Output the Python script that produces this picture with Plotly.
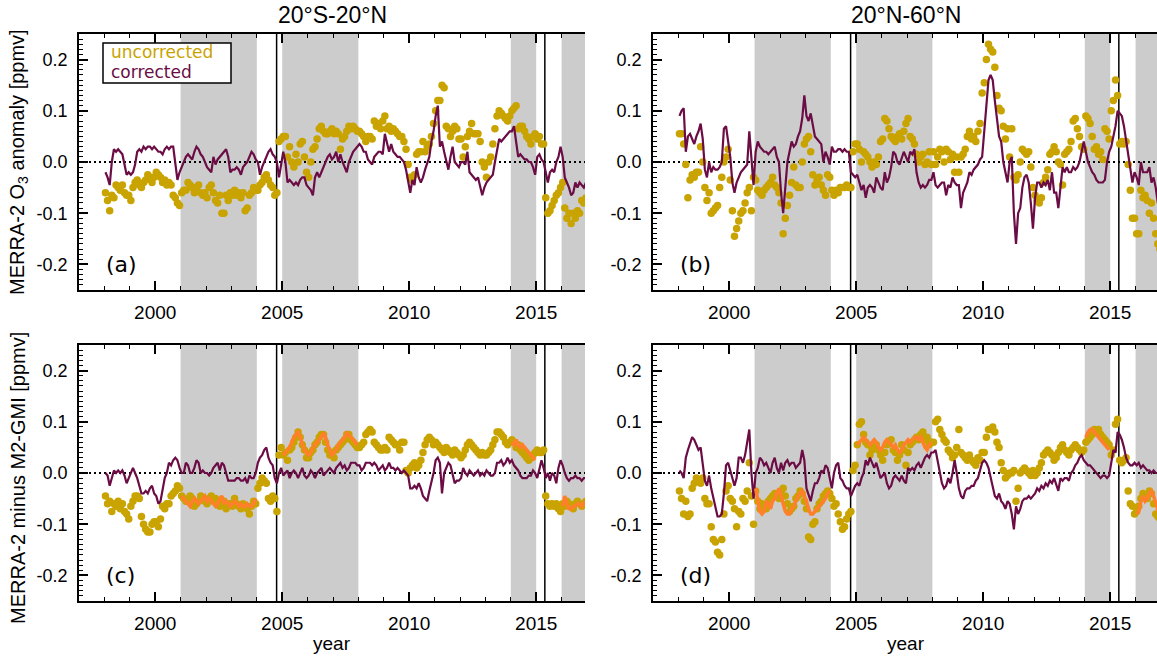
import numpy as np
import plotly.graph_objects as go

# ---------------------------------------------------------------------------
# Monthly series, Jan 1998 .. Dec 2016 (one row of 12 values per year)
# ---------------------------------------------------------------------------
FIRST_YEAR = 1998
N_YEARS = 19

# (a) 20S-20N, O3 anomaly
A_UNCORR = [
    -0.06, -0.075, -0.095, -0.065, -0.07, -0.045, -0.05, -0.055, -0.045, -0.06, -0.065, -0.065,
    -0.075, -0.05, -0.04, -0.035, -0.045, -0.05, -0.04, -0.035, -0.025, -0.03, -0.04, -0.03,
    -0.02, -0.025, -0.03, -0.04, -0.035, -0.045, -0.04, -0.045, -0.065, -0.07, -0.08, -0.085,
    -0.06, -0.055, -0.055, -0.04, -0.045, -0.05, -0.06, -0.05, -0.045, -0.06, -0.065, -0.06,
    -0.07, -0.05, -0.045, -0.06, -0.075, -0.08, -0.065, -0.1, -0.1, -0.065, -0.075, -0.06,
    -0.065, -0.055, -0.065, -0.06, -0.07, -0.06, -0.095, -0.09, -0.065, -0.06, -0.05, -0.055,
    -0.055, -0.045, -0.04, -0.03, -0.025, -0.035, -0.045, -0.05, -0.065, -0.06, 0.04, 0.045,
    0.05, 0.05, 0.01, 0.03, 0.0, -0.01, 0.015, 0.0, 0.035, 0.04, 0.01, -0.02,
    -0.03, 0.0, 0.025, 0.03, 0.045, 0.065, 0.07, 0.06, 0.055, 0.055, 0.06, 0.065,
    0.055, 0.06, 0.055, 0.025, 0.045, 0.05, 0.06, 0.07, 0.065, 0.07, 0.065, 0.06,
    0.06, 0.055, 0.05, 0.04, 0.05, 0.05, 0.045, 0.08, 0.07, 0.075, 0.065, 0.08,
    0.09, 0.065, 0.07, 0.06, 0.065, 0.06, 0.055, 0.05, 0.05, 0.04, 0.025, -0.005,
    -0.03, -0.035, -0.025, 0.015, 0.02, 0.02, 0.04, 0.02, 0.03, 0.035, 0.05, 0.075,
    0.1, 0.12, 0.12, 0.15, 0.145, 0.07, 0.065, 0.05, 0.06, 0.07, 0.065, 0.045,
    0.045, 0.01, 0.03, 0.05, 0.06, 0.075, 0.055, 0.055, 0.055, 0.04, 0.0, -0.01,
    -0.03, 0.0, 0.01, 0.035, 0.065, 0.09, 0.1, 0.095, 0.09, 0.085, 0.08, 0.09,
    0.1, 0.105, 0.11, 0.065, 0.07, 0.07, 0.06, 0.05, 0.045, 0.035, 0.05, 0.055,
    0.045, 0.05, 0.035, 0.035, -0.07, -0.1, -0.095, -0.085, -0.075, -0.065, -0.06, -0.05,
    -0.04, -0.09, -0.11, -0.1, -0.12, -0.1, -0.11, -0.095, -0.1, -0.075, -0.08, -0.07,
]
A_CORR = [
    -0.02, -0.03, -0.045, 0.0, 0.025, 0.02, 0.025, 0.02, 0.015, -0.005, -0.025, -0.02,
    -0.025, -0.02, -0.005, 0.02, 0.025, 0.02, 0.03, 0.025, 0.03, 0.03, 0.025, 0.03,
    0.025, 0.02, 0.02, 0.015, 0.025, 0.03, 0.025, 0.03, 0.03, 0.0, -0.035, -0.02,
    -0.01, 0.0, 0.01, 0.015, 0.01, 0.005, 0.02, 0.03, 0.025, 0.015, 0.01, 0.0,
    -0.01, -0.015, -0.02, 0.01, -0.005, 0.005, 0.01, 0.015, 0.02, 0.025, 0.01, -0.02,
    -0.015, -0.015, -0.01, -0.015, -0.025, -0.01, -0.005, 0.0, 0.01, 0.02, 0.015, 0.005,
    0.0, -0.025, -0.01, 0.0, 0.01, 0.02, 0.025, 0.015, 0.01, 0.0, -0.03, 0.0,
    0.02, 0.0, -0.04, -0.035, -0.04, -0.045, -0.04, -0.045, -0.035, -0.03, -0.03, -0.045,
    -0.05, -0.055, -0.065, -0.03, -0.02, -0.03, -0.02, -0.01, 0.0, 0.01, 0.015, 0.005,
    0.01, 0.02, 0.0, 0.015, 0.0, -0.01, -0.02, 0.0, 0.01, 0.02, 0.025, 0.03,
    0.035, 0.03, 0.02, 0.02, 0.005, 0.0, -0.005, 0.01, 0.015, 0.02, 0.02, 0.015,
    0.055, 0.04, 0.02, 0.035, 0.02, 0.015, 0.01, 0.01, 0.005, 0.0, -0.015, -0.04,
    -0.06, -0.035, -0.045, -0.01, -0.03, -0.04, -0.03, -0.015, 0.0, 0.01, 0.04, 0.06,
    0.09, 0.11, 0.03, 0.04, 0.02, 0.0, -0.015, 0.01, 0.03, 0.0, -0.005, -0.01,
    0.0, 0.0, -0.005, 0.02, -0.02, -0.025, -0.03, -0.035, -0.03, -0.045, -0.065, -0.05,
    -0.04, -0.035, -0.03, -0.025, 0.0, 0.02, 0.045, 0.04, 0.045, 0.05, 0.055, 0.06,
    0.06, 0.07, 0.04, 0.01, 0.015, 0.01, 0.005, 0.005, 0.0, 0.0, -0.01, -0.025,
    0.01, 0.015, 0.005, 0.0, -0.02, -0.04, -0.02, -0.015, -0.02, 0.0, 0.01, 0.03,
    0.01, -0.03, -0.04, -0.05, -0.065, -0.06, -0.04, -0.05, -0.04, -0.045, -0.05, -0.04,
]

# (b) 20N-60N, O3 anomaly
B_UNCORR = [
    0.055, 0.055, 0.035, -0.005, -0.07, -0.035, -0.025, -0.03, -0.02, -0.02, 0.03, 0.0,
    -0.05, -0.075, -0.06, -0.1, -0.095, -0.09, -0.085, -0.05, -0.03, 0.0, 0.01, 0.025,
    -0.035, -0.095, -0.145, -0.13, -0.115, -0.1, -0.095, -0.08, -0.06, -0.05, -0.095, -0.03,
    -0.035, -0.055, -0.06, -0.065, -0.055, -0.05, -0.045, -0.04, -0.03, -0.045, -0.05, -0.06,
    -0.08, -0.14, -0.11, -0.085, -0.065, -0.04, -0.01, -0.045, -0.05, -0.05, 0.0, 0.035,
    0.045, 0.05, 0.02, -0.025, -0.045, -0.035, -0.03, -0.045, -0.055, -0.065, -0.025, -0.03,
    -0.055, -0.065, -0.055, -0.06, -0.05, -0.05, -0.05, -0.045, -0.05, -0.05, 0.02, 0.035,
    0.035, 0.025, 0.0, 0.02, 0.015, 0.01, 0.0, -0.01, 0.0, -0.005, 0.01, 0.04,
    0.045, 0.085, 0.08, 0.065, 0.05, 0.045, 0.04, 0.05, 0.055, 0.045, 0.06, 0.075,
    0.085, 0.05, 0.045, 0.035, 0.015, 0.0, 0.01, 0.015, -0.005, 0.0, 0.02, -0.005,
    0.02, -0.005, 0.01, 0.025, 0.02, 0.0, 0.025, 0.02, 0.005, 0.015, -0.02, 0.01,
    -0.02, 0.01, 0.015, 0.025, 0.05, 0.06, 0.045, 0.05, 0.04, 0.06, 0.075, 0.135,
    0.155, 0.2, 0.23, 0.22, 0.215, 0.185, 0.13, 0.105, 0.1, 0.07, 0.045, 0.065,
    0.01, 0.065, -0.03, -0.035, -0.025, 0.0, 0.025, 0.02, 0.015, 0.02, -0.01, -0.05,
    -0.065, -0.075, -0.08, -0.07, -0.04, -0.03, -0.015, 0.015, 0.02, 0.03, 0.02, 0.0,
    -0.005, -0.045, 0.015, 0.02, 0.025, 0.04, 0.08, 0.085, 0.065, 0.05, 0.03, 0.025,
    0.09, 0.085, 0.075, 0.05, 0.025, 0.03, 0.015, 0.02, 0.005, 0.065, 0.06, 0.045,
    0.1, 0.12, 0.16, 0.13, 0.035, 0.04, 0.035, 0.04, -0.005, -0.055, -0.11, -0.11,
    -0.14, -0.14, -0.055, -0.07, -0.065, -0.075, -0.1, -0.08, -0.11, -0.14, -0.16, -0.17,
]
B_CORR = [
    0.09, 0.1, 0.105, 0.02, 0.05, 0.055, 0.045, 0.035, 0.05, 0.06, 0.075, 0.045,
    -0.015, -0.03, 0.0, -0.02, -0.01, -0.015, -0.015, -0.01, 0.0, 0.065, 0.07, 0.04,
    0.01, -0.04, -0.06, -0.04, -0.03, -0.02, -0.015, -0.01, -0.005, 0.06, 0.0, -0.045,
    0.02, 0.04, 0.03, 0.025, 0.02, 0.02, 0.015, 0.02, 0.025, 0.03, 0.01, 0.0,
    -0.06, -0.1, -0.05, 0.0, 0.02, 0.04, 0.03, 0.035, 0.05, 0.06, 0.085, 0.13,
    0.09, 0.08, 0.095, 0.07, 0.05, 0.045, 0.04, 0.035, 0.0, 0.02, 0.01, -0.005,
    0.03, 0.02, 0.02, 0.025, 0.025, 0.02, 0.025, 0.02, 0.02, -0.02, -0.025, -0.03,
    -0.025, -0.04, -0.055, -0.045, -0.07, -0.05, -0.045, -0.05, -0.06, -0.03, -0.04, -0.05,
    -0.055, -0.02, -0.04, -0.03, -0.01, 0.02, 0.015, 0.0, -0.005, 0.01, 0.02, 0.01,
    0.0, 0.02, 0.015, 0.025, -0.02, -0.04, -0.05, -0.045, -0.05, -0.045, -0.035, -0.035,
    -0.02, -0.045, -0.05, -0.045, -0.04, -0.04, -0.065, -0.045, -0.05, -0.03, -0.04, -0.045,
    -0.045, -0.09, -0.06, -0.05, -0.04, -0.02, -0.025, -0.015, -0.01, -0.005, 0.005, 0.01,
    0.06, 0.12, 0.16, 0.17, 0.16, 0.12, 0.08, 0.05, 0.04, 0.0, -0.02, -0.04,
    0.0, 0.01, -0.1, -0.16, -0.1, -0.09, -0.05, -0.03, -0.025, -0.04, -0.08, -0.13,
    -0.07, -0.04, -0.04, -0.05, -0.04, -0.045, -0.035, -0.055, -0.02, -0.06, -0.06, -0.09,
    -0.05, -0.01, -0.02, -0.01, -0.02, -0.02, -0.01, -0.015, -0.01, 0.0, 0.02, 0.04,
    0.02, 0.0, -0.01, -0.02, -0.025, -0.035, -0.04, -0.04, -0.04, -0.035, 0.0, 0.02,
    0.03, 0.05, 0.07, 0.1, 0.095, 0.09, 0.07, 0.04, 0.01, -0.02, -0.04, -0.02,
    -0.03, -0.045, 0.0, -0.02, -0.02, -0.02, -0.01, -0.04, -0.03, -0.05, -0.08, -0.09,
]

# (c) 20S-20N, MERRA-2 minus M2-GMI
C_UNCORR = [
    -0.045, -0.06, -0.055, -0.075, -0.06, -0.065, -0.055, -0.07, -0.06, -0.075, -0.08, -0.09,
    -0.065, -0.055, -0.045, -0.045, -0.05, -0.085, -0.1, -0.11, -0.115, -0.115, -0.1, -0.095,
    -0.095, -0.105, -0.09, -0.065, -0.07, -0.06, -0.06, -0.045, -0.04, -0.035, -0.025, -0.03,
    -0.045, -0.05, -0.055, -0.055, -0.045, -0.05, -0.065, -0.06, -0.055, -0.045, -0.05, -0.055,
    -0.06, -0.05, -0.045, -0.055, -0.05, -0.06, -0.065, -0.06, -0.055, -0.07, -0.06, -0.06,
    -0.065, -0.05, -0.06, -0.065, -0.07, -0.06, -0.065, -0.07, -0.08, -0.065, -0.055, -0.06,
    -0.03, -0.02, -0.01, -0.015, -0.02, -0.05, -0.055, -0.045, -0.05, -0.075, 0.035, 0.05,
    0.035, 0.04, 0.025, 0.045, 0.05, 0.06, 0.07, 0.08, 0.07, 0.055, 0.045, 0.03,
    0.03, 0.04, 0.045, 0.055, 0.06, 0.07, 0.075, 0.075, 0.06, 0.045, 0.035, 0.04,
    0.03, 0.045, 0.05, 0.055, 0.06, 0.065, 0.075, 0.075, 0.065, 0.06, 0.055, 0.05,
    0.05, 0.055, 0.06, 0.075, 0.08, 0.085, 0.08, 0.06, 0.055, 0.05, 0.045, 0.045,
    0.05, 0.045, 0.07, 0.065, 0.06, 0.055, 0.055, 0.045, 0.06, 0.06, 0.005, 0.0,
    0.01, 0.015, 0.02, 0.01, 0.015, 0.025, 0.04, 0.055, 0.065, 0.07, 0.065, 0.055,
    0.06, 0.055, 0.05, 0.045, 0.04, 0.05, 0.045, 0.04, 0.035, 0.045, 0.04, 0.035,
    0.03, 0.035, 0.045, 0.055, 0.06, 0.055, 0.05, 0.045, 0.04, 0.035, 0.04, 0.035,
    0.035, 0.04, 0.045, 0.055, 0.065, 0.08, 0.08, 0.075, 0.07, 0.06, 0.055, 0.06,
    0.065, 0.06, 0.05, 0.055, 0.045, 0.04, 0.035, 0.03, 0.025, 0.03, 0.035, 0.04,
    0.045, 0.04, 0.04, 0.045, -0.045, -0.06, -0.065, -0.06, -0.065, -0.06, -0.07, -0.075,
    -0.06, -0.065, -0.055, -0.06, -0.065, -0.07, -0.06, -0.055, -0.06, -0.065, -0.06, -0.055,
]
C_CORR = [
    0.0, -0.005, -0.025, -0.01, 0.005, 0.0, 0.005, 0.0, 0.005, -0.005, -0.02, -0.01,
    0.0, 0.01, 0.0, -0.01, -0.025, -0.04, -0.04, -0.035, -0.04, -0.03, -0.025, -0.04,
    -0.045, -0.06, -0.055, -0.03, -0.01, 0.0, 0.02, 0.015, 0.025, 0.03, 0.025, 0.01,
    0.0, 0.0, 0.02, 0.015, 0.0, 0.0, 0.01, 0.025, 0.02, 0.0, 0.005, 0.0,
    0.0, -0.005, 0.0, 0.01, 0.015, 0.02, 0.005, 0.02, 0.015, 0.0, -0.015, -0.015,
    -0.015, -0.015, -0.01, -0.01, -0.015, -0.015, -0.01, -0.02, -0.005, -0.01, -0.01, 0.0,
    0.02, 0.03, 0.035, 0.045, 0.05, 0.03, 0.02, 0.015, -0.01, -0.02, 0.0, 0.01,
    -0.005, 0.0, 0.005, -0.01, 0.0, 0.005, 0.0, -0.01, 0.0, 0.01, -0.005, -0.01,
    -0.005, 0.005, 0.0, -0.01, 0.0, 0.005, 0.01, -0.005, 0.0, 0.005, 0.01, 0.005,
    0.0, 0.01, 0.015, 0.02, 0.01, 0.015, 0.005, 0.01, 0.02, 0.02, 0.02, 0.015,
    0.015, 0.005, 0.01, 0.02, 0.02, 0.02, 0.015, 0.02, 0.015, 0.005, 0.01, 0.015,
    0.005, 0.01, 0.02, 0.01, 0.01, 0.005, 0.01, 0.005, 0.0, 0.005, 0.0, -0.005,
    -0.03, -0.03, -0.025, -0.03, -0.02, -0.03, -0.045, -0.05, -0.055, -0.035, -0.02, 0.0,
    0.025, 0.03, 0.02, -0.04, 0.0, 0.01, 0.02, 0.015, 0.0, -0.02, -0.015, -0.015,
    -0.01, 0.01, 0.0, -0.005, 0.005, 0.0, -0.005, 0.0, 0.005, -0.005, 0.0, -0.005,
    0.005, 0.0, -0.005, -0.005, 0.0, 0.02, 0.02, 0.025, 0.015, 0.02, 0.03, 0.02,
    0.025, 0.015, 0.01, 0.005, -0.005, -0.01, -0.01, -0.01, -0.005, -0.005, 0.005, 0.0,
    -0.01, 0.01, 0.025, 0.01, -0.01, 0.0, -0.015, 0.0, -0.005, -0.02, 0.01, 0.025,
    0.015, 0.0, -0.01, -0.015, -0.01, -0.01, -0.005, -0.01, -0.01, -0.015, -0.01, -0.01,
]

# (d) 20N-60N, MERRA-2 minus M2-GMI
D_UNCORR = [
    -0.035, -0.05, -0.08, -0.055, -0.085, -0.08, -0.03, -0.02, -0.01, -0.015, -0.02, -0.01,
    -0.05, -0.06, -0.06, -0.105, -0.13, -0.135, -0.155, -0.16, -0.13, -0.08, -0.035, -0.025,
    -0.05, -0.055, -0.07, -0.105, -0.075, -0.08, -0.05, -0.055, -0.035, 0.02, -0.045, -0.1,
    -0.035, -0.055, -0.07, -0.06, -0.065, -0.07, -0.055, -0.05, -0.045, -0.04, -0.045, -0.05,
    -0.035, -0.03, -0.045, -0.06, -0.075, -0.07, -0.065, -0.05, -0.045, -0.035, -0.04, -0.055,
    -0.07, -0.125, -0.13, -0.1, -0.095, -0.07, -0.06, -0.055, -0.045, -0.04, -0.035, -0.04,
    -0.05, -0.065, -0.06, -0.08, -0.095, -0.11, -0.105, -0.09, -0.08, -0.075, 0.005, 0.015,
    0.055, 0.095, 0.1, 0.075, 0.06, 0.055, 0.035, 0.045, 0.05, 0.055, 0.045, 0.035,
    0.025, 0.04, 0.055, 0.06, 0.065, 0.045, 0.04, 0.025, 0.035, 0.055, 0.045, 0.015,
    0.04, 0.055, 0.06, 0.065, 0.07, 0.065, 0.075, 0.08, 0.065, 0.07, 0.055, 0.06,
    0.06, 0.1, 0.105, 0.085, 0.075, 0.065, 0.06, 0.045, 0.04, 0.03, 0.035, 0.05,
    0.085, 0.04, 0.035, 0.03, 0.025, 0.035, 0.025, 0.02, 0.015, 0.03, 0.025, 0.04,
    0.04, 0.07, 0.085, 0.085, 0.09, 0.08, 0.06, 0.05, 0.02, 0.005, -0.01, -0.005,
    0.0, 0.0, 0.005, -0.055, -0.03, 0.0, 0.005, 0.01, 0.005, 0.0, -0.005, 0.005,
    -0.005, 0.0, 0.01, 0.02, 0.035, 0.04, 0.045, 0.04, 0.035, 0.025, 0.03, 0.04,
    0.05, 0.055, 0.045, 0.04, 0.035, 0.045, 0.05, 0.055, 0.05, 0.045, 0.04, 0.045,
    0.06, 0.065, 0.07, 0.075, 0.085, 0.08, 0.085, 0.075, 0.07, 0.065, 0.06, 0.055,
    0.035, 0.045, 0.095, 0.105, 0.025, 0.02, 0.025, 0.03, -0.035, -0.06, -0.065, -0.08,
    -0.075, -0.065, -0.05, -0.04, -0.045, -0.05, -0.035, -0.04, -0.06, -0.08, -0.085, -0.09,
]
D_CORR = [
    0.005, 0.0, -0.01, 0.03, 0.045, 0.06, 0.07, 0.065, 0.055, 0.045, 0.05, 0.02,
    -0.015, -0.025, -0.005, -0.03, -0.05, -0.07, -0.085, -0.085, -0.08, -0.04, 0.015, 0.02,
    0.005, -0.015, -0.025, -0.01, 0.03, 0.03, 0.02, 0.035, 0.06, 0.085, 0.0, -0.05,
    0.0, 0.01, 0.03, 0.025, 0.015, 0.02, 0.01, 0.0, 0.02, 0.03, 0.01, 0.0,
    0.02, 0.005, 0.02, 0.025, 0.015, 0.02, 0.02, 0.01, 0.015, 0.02, 0.045, 0.025,
    -0.03, -0.045, -0.055, -0.035, -0.02, -0.02, -0.01, 0.005, 0.0, 0.015, 0.01, -0.01,
    -0.03, 0.0, 0.015, 0.02, -0.01, -0.015, -0.025, -0.03, -0.03, -0.045, -0.035, -0.025,
    -0.02, -0.025, -0.01, 0.0, 0.025, 0.015, 0.03, 0.02, 0.01, 0.02, 0.005, -0.01,
    -0.005, 0.0, -0.02, -0.03, -0.025, -0.01, -0.005, -0.01, -0.015, -0.005, -0.015, -0.02,
    0.01, 0.005, 0.01, 0.005, 0.015, 0.02, 0.01, 0.02, 0.03, 0.035, 0.03, 0.04,
    0.04, 0.045, 0.025, 0.005, -0.02, -0.03, -0.025, -0.01, -0.02, 0.0, 0.025, 0.0,
    -0.03, -0.045, -0.05, -0.035, -0.03, -0.03, -0.025, -0.025, -0.015, -0.01, 0.005, 0.02,
    0.025, 0.02, 0.01, -0.01, -0.03, -0.045, -0.05, -0.04, -0.055, -0.06, -0.07, -0.055,
    -0.06, -0.08, -0.11, -0.065, -0.08, -0.07, -0.055, -0.05, -0.05, -0.045, -0.05, -0.045,
    -0.04, -0.03, -0.035, -0.025, -0.03, -0.02, -0.025, -0.015, -0.02, -0.01, -0.025, -0.035,
    -0.01, -0.015, -0.01, -0.01, -0.015, 0.0, 0.005, 0.015, 0.02, 0.03, 0.035, 0.025,
    0.02, 0.015, 0.015, 0.01, 0.005, 0.0, -0.005, -0.01, -0.005, -0.005, -0.01, -0.005,
    0.02, 0.045, 0.04, 0.08, 0.075, 0.065, 0.05, 0.03, 0.02, 0.015, 0.015, 0.02,
    0.015, 0.02, 0.01, 0.015, 0.01, 0.005, 0.005, 0.0, 0.005, 0.0, 0.0, -0.005,
]

# Difference during the reference periods (monthly, starting in January of the given year)
C_ORANGE_2001 = [
    -0.045, -0.05, -0.055, -0.06, -0.065, -0.055, -0.05, -0.055, -0.06, -0.055, -0.05, -0.045,
    -0.055, -0.05, -0.055, -0.06, -0.065, -0.06, -0.05, -0.045, -0.06, -0.055, -0.06, -0.065,
    -0.06, -0.055, -0.06, -0.065, -0.06, -0.065, -0.065, -0.06, -0.065, -0.065, -0.06, -0.05,
]
C_ORANGE_2005 = [
    0.035, 0.04, 0.045, 0.05, 0.06, 0.07, 0.075, 0.08, 0.07, 0.055, 0.045, 0.04,
    0.035, 0.04, 0.05, 0.055, 0.06, 0.065, 0.07, 0.078, 0.07, 0.055, 0.045, 0.035,
    0.04, 0.045, 0.055, 0.06, 0.065, 0.07, 0.078, 0.075, 0.07, 0.065, 0.06, 0.055,
]
C_ORANGE_2014 = [0.06, 0.055, 0.065, 0.055, 0.05, 0.055, 0.05, 0.045, 0.04, 0.035, 0.03, 0.025]
C_ORANGE_2016 = [-0.065, -0.045, -0.06, -0.07, -0.07, -0.065, -0.065, -0.06, -0.06, -0.065, -0.06, -0.055]

D_ORANGE_2001 = [
    -0.03, -0.055, -0.075, -0.08, -0.075, -0.055, -0.06, -0.07, -0.055, -0.05, -0.04, -0.03,
    -0.045, -0.06, -0.075, -0.08, -0.08, -0.07, -0.065, -0.055, -0.045, -0.04, -0.035, -0.045,
    -0.055, -0.07, -0.08, -0.08, -0.075, -0.07, -0.065, -0.06, -0.055, -0.05, -0.04, -0.035,
]
D_ORANGE_2005 = [
    0.055, 0.06, 0.065, 0.07, 0.065, 0.06, 0.055, 0.06, 0.065, 0.06, 0.05, 0.045,
    0.05, 0.06, 0.065, 0.06, 0.055, 0.05, 0.055, 0.045, 0.04, 0.045, 0.055, 0.06,
    0.065, 0.06, 0.065, 0.07, 0.07, 0.065, 0.07, 0.06, 0.05, 0.045, 0.055, 0.06,
]
D_ORANGE_2014 = [0.07, 0.08, 0.085, 0.085, 0.08, 0.075, 0.07, 0.065, 0.06, 0.055, 0.05, 0.045]
D_ORANGE_2016 = [-0.08, -0.075, -0.055, -0.045, -0.055, -0.05, -0.04, -0.035, -0.045, -0.06, -0.075, -0.085]

# Shaded reference periods and instrument change dates
SHADED_PERIODS = [(2001.0, 2004.0), (2005.0, 2008.0), (2014.0, 2015.0), (2016.0, 2020.0)]
CHANGE_DATES = [2004.78, 2015.34]

TITLES = ["20°S-20°N", "20°N-60°N"]
Y_LABELS = ["MERRA-2 O<sub>3</sub> anomaly [ppmv]", "MERRA-2 minus M2-GMI [ppmv]"]
PANEL_TAGS = ["(a)", "(b)", "(c)", "(d)"]
Y_TICKS = [-0.2, -0.1, 0.0, 0.1, 0.2]
Y_TICK_TEXT = ["-0.2", "-0.1", "0.0", "0.1", "0.2"]

GOLD = "#C9A300"
PURPLE = "#6B0C45"
ORANGE = "#FF7F2A"
SHADE = "#CCCCCC"

for series in (A_UNCORR, A_CORR, B_UNCORR, B_CORR, C_UNCORR, C_CORR, D_UNCORR, D_CORR):
    assert len(series) == 12 * N_YEARS, len(series)

t = FIRST_YEAR + (np.arange(12 * N_YEARS) + 0.5) / 12.0

# ---------------------------------------------------------------------------
# Layout geometry (pixels of a 1157 x 656 canvas)
# ---------------------------------------------------------------------------
W, H = 1157, 656


def fx(p):
    return p / W


def fy(p):
    return 1 - p / H


COLS = [(79, 585), (653, 1157)]       # left/right plot edges in px
ROWS = [(34, 290), (345, 601)]        # top/bottom plot edges in px
PX_PER_YEAR = 25.4
X0 = 1997.0

panels = [
    dict(unc=A_UNCORR, corr=A_CORR, orange=None),
    dict(unc=B_UNCORR, corr=B_CORR, orange=None),
    dict(unc=C_UNCORR, corr=C_CORR,
         orange=[(2001, C_ORANGE_2001), (2005, C_ORANGE_2005), (2014, C_ORANGE_2014), (2016, C_ORANGE_2016)]),
    dict(unc=D_UNCORR, corr=D_CORR,
         orange=[(2001, D_ORANGE_2001), (2005, D_ORANGE_2005), (2014, D_ORANGE_2014), (2016, D_ORANGE_2016)]),
]

fig = go.Figure()
shapes = []
annotations = []
SANS = "Liberation Sans, Arial, sans-serif"
X_TICK_FONT = dict(family=SANS, size=19, color="black")
Y_TICK_FONT = dict(family=SANS, size=18, color="black")

for i, p in enumerate(panels):
    r, c = divmod(i, 2)
    n = i + 1
    xname = "x" if n == 1 else f"x{n}"
    yname = "y" if n == 1 else f"y{n}"
    left, right = COLS[c]
    top, bottom = ROWS[r]
    x1 = X0 + (right - left) / PX_PER_YEAR

    fig.add_trace(go.Scatter(
        x=t, y=p["unc"], mode="markers", xaxis=xname, yaxis=yname,
        marker=dict(color=GOLD, size=7.5, line=dict(width=0)), showlegend=False,
    ))
    fig.add_trace(go.Scatter(
        x=t, y=p["corr"], mode="lines", xaxis=xname, yaxis=yname,
        line=dict(color=PURPLE, width=2.2), showlegend=False,
    ))
    if p["orange"]:
        for start, vals in p["orange"]:
            xo = start + (np.arange(len(vals)) + 0.5) / 12.0
            fig.add_trace(go.Scatter(
                x=xo, y=vals, mode="lines", xaxis=xname, yaxis=yname,
                line=dict(color=ORANGE, width=3.5), showlegend=False,
            ))

    ax_key = "xaxis" if n == 1 else f"xaxis{n}"
    ay_key = "yaxis" if n == 1 else f"yaxis{n}"
    fig.layout[ax_key] = dict(
        domain=[fx(left), fx(right)], range=[X0, x1], anchor=yname,
        showgrid=False, zeroline=False, showline=True, linecolor="black", linewidth=1.5,
        mirror="ticks", ticks="inside", ticklen=9, tickwidth=1.5, tickcolor="black",
        tickmode="linear", tick0=2000, dtick=5, tickfont=X_TICK_FONT, ticklabelstandoff=4,
        minor=dict(ticks="inside", ticklen=4, tickwidth=1.2, tickcolor="black",
                   tickmode="linear", tick0=2000, dtick=1, showgrid=False),
    )
    fig.layout[ay_key] = dict(
        domain=[fy(bottom), fy(top)], range=[-0.25, 0.25], anchor=xname,
        showgrid=False, zeroline=False, showline=True, linecolor="black", linewidth=1.5,
        mirror=False, ticks="inside", ticklen=9, tickwidth=1.5, tickcolor="black",
        tickmode="array", tickvals=Y_TICKS, ticktext=Y_TICK_TEXT, tickfont=Y_TICK_FONT,
        ticklabelstandoff=6,
        minor=dict(ticks="inside", ticklen=4, tickwidth=1.0, tickcolor="black",
                   tickmode="linear", tick0=0, dtick=0.01, showgrid=False),
    )

    for a, b in SHADED_PERIODS:
        shapes.append(dict(type="rect", xref=xname, yref=yname, x0=a, x1=min(b, x1),
                           y0=-0.25, y1=0.25, fillcolor=SHADE, line=dict(width=0), layer="below"))
    shapes.append(dict(type="line", xref=xname, yref=yname, x0=X0, x1=x1, y0=0, y1=0,
                       line=dict(color="black", width=2, dash="2px,3px"), layer="below"))
    for d in CHANGE_DATES:
        shapes.append(dict(type="line", xref=xname, yref=yname, x0=d, x1=d, y0=-0.25, y1=0.25,
                           line=dict(color="black", width=1.5), layer="below"))

    annotations.append(dict(xref=xname, yref=yname, x=1998.0, y=-0.2, text=PANEL_TAGS[i],
                            showarrow=False, xanchor="left", yanchor="middle",
                            font=dict(family="DejaVu Sans", size=22, color="black")))

    if r == 0:
        annotations.append(dict(xref="paper", yref="paper", x=fx(left + 253), y=fy(15),
                                text=TITLES[c], showarrow=False, xanchor="center", yanchor="middle",
                                font=dict(family=SANS, size=23, color="black")))
    else:
        annotations.append(dict(xref="paper", yref="paper", x=fx(left + 253), y=fy(643),
                                text="year", showarrow=False, xanchor="center", yanchor="middle",
                                font=dict(family=SANS, size=19, color="black")))
    if c == 0:
        annotations.append(dict(xref="paper", yref="paper", x=fx(18), y=fy((top + bottom) / 2 + (5 if r else 0)),
                                text=Y_LABELS[r], showarrow=False, textangle=-90,
                                xanchor="center", yanchor="middle",
                                font=dict(family=SANS, size=20, color="black")))

# Legend box in panel (a)
shapes.append(dict(type="rect", xref="paper", yref="paper", x0=fx(103), x1=fx(231), y0=fy(83), y1=fy(43),
                   fillcolor="white", line=dict(color="black", width=1.5), layer="above"))
annotations.append(dict(xref="paper", yref="paper", x=fx(109), y=fy(52), text="uncorrected",
                        showarrow=False, xanchor="left", yanchor="middle",
                        font=dict(family="DejaVu Sans", size=17, color=GOLD)))
annotations.append(dict(xref="paper", yref="paper", x=fx(109), y=fy(72), text="corrected",
                        showarrow=False, xanchor="left", yanchor="middle",
                        font=dict(family="DejaVu Sans", size=17, color=PURPLE)))

fig.update_layout(
    width=W, height=H, margin=dict(l=0, r=0, t=0, b=0),
    paper_bgcolor="white", plot_bgcolor="white",
    shapes=shapes, annotations=annotations, showlegend=False,
)

fig.write_html("out.html")
